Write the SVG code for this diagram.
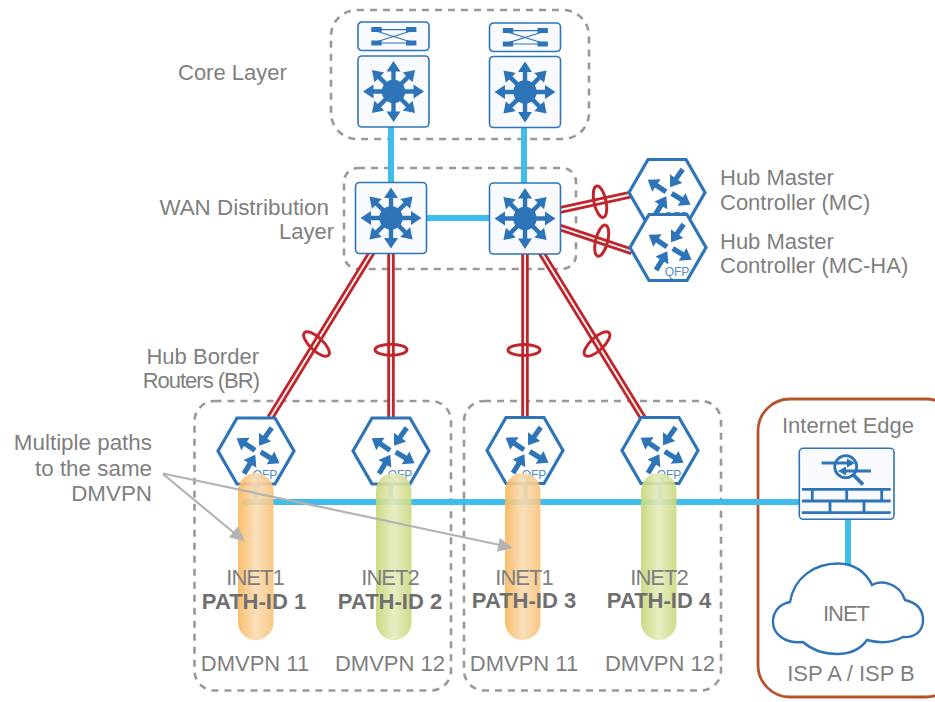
<svg xmlns="http://www.w3.org/2000/svg" width="935" height="702" viewBox="0 0 935 702">
<style>
text{font-family:"Liberation Sans",Arial,sans-serif;font-size:22px;fill:#7f7f7f}
.w{font-size:22.400px}
.n{letter-spacing:-1px}
.b{font-weight:700;fill:#6f6f6f}
.m{text-anchor:middle}
.e{text-anchor:end}
.q{font-size:12px;fill:#4f8ac6;text-anchor:middle}
.dash{fill:none;stroke:#999;stroke-width:2.600;stroke-dasharray:7 6}
.blue{stroke:#40bde8;stroke-width:6;fill:none}
.stub{stroke:#40bde8;stroke-width:5;fill:none}
.rout{stroke:#c0272d;stroke-width:7.500;fill:none}
.rin{stroke:#fff;stroke-width:1.800;fill:none}
.ring{fill:none;stroke:#c0272d;stroke-width:3}
.box{fill:#f8fafd;stroke:#2e74b8;stroke-width:1.600}
.hex{fill:#fff;stroke:#2e74b8;stroke-width:3.200;stroke-linejoin:miter}
.ic{fill:#2e74b8}
.thin{stroke:#2e74b8;stroke-width:1.100;fill:none}
.wall{stroke:#2e74b8;stroke-width:2.800;fill:none}
.note{stroke:#b3b3b3;stroke-width:2.200;fill:none}
</style>
<defs>
<linearGradient id="org" x1="0" x2="1" y1="0" y2="0"><stop offset="0" stop-color="#f9b75c"/><stop offset=".5" stop-color="#f8dcb4"/><stop offset="1" stop-color="#f9c177"/></linearGradient>
<linearGradient id="grn" x1="0" x2="1" y1="0" y2="0"><stop offset="0" stop-color="#c6d676"/><stop offset=".5" stop-color="#e6ebbd"/><stop offset="1" stop-color="#c9d87c"/></linearGradient>
<path id="sa" class="ic" d="M0-2.200H20V-7L30.500 0 20 7V2.200H0Z"/>
<g id="switch">
<rect class="box" x="-35.500" y="-35.500" width="71" height="71" rx="4"/>
<use href="#sa"/><use href="#sa" transform="rotate(45)"/><use href="#sa" transform="rotate(90)"/><use href="#sa" transform="rotate(135)"/><use href="#sa" transform="rotate(180)"/><use href="#sa" transform="rotate(225)"/><use href="#sa" transform="rotate(270)"/><use href="#sa" transform="rotate(315)"/>
<circle class="ic" r="11.700"/>
</g>
<g id="xbar">
<rect class="box" width="71" height="28.500" rx="4"/>
<path class="thin" d="M18 7.600H53M18 21H53M18 9L53 20M18 20L53 9"/>
<rect class="ic" x="13.300" y="5" width="10.400" height="5"/><rect class="ic" x="48" y="5" width="10.400" height="5"/><rect class="ic" x="13.300" y="18.500" width="10.400" height="5"/><rect class="ic" x="48" y="18.500" width="10.400" height="5"/>
</g>
<path id="ra" class="ic" d="M0-2.600H11.500V-7.500L22 0 11.500 7.500V2.600H0Z"/>
<g id="router">
<path class="hex" d="M-38 0L-19-33H19L38 0 19 33H-19Z"/>
<use href="#ra" transform="translate(15.700 -23.300) rotate(125)"/>
<use href="#ra" transform="translate(-1 -.7) rotate(213.600)"/>
<use href="#ra" transform="translate(-12 22.700) rotate(-59)"/>
<use href="#ra" transform="translate(4.700 1) rotate(31)"/>
<text class="q" x="9" y="28">QFP</text>
</g>
<path id="noteHead" fill="#b3b3b3" d="M0 0L-15-7V7Z"/>
</defs>

<g id="containers">
<rect id="core-box" class="dash" x="331" y="10" width="258" height="129" rx="26"/>
<rect id="dist-box" class="dash" x="344" y="168" width="232" height="101" rx="14"/>
<rect id="group-left" class="dash" x="194.500" y="401" width="256.500" height="289.500" rx="20"/>
<rect id="group-right" class="dash" x="464" y="401" width="257" height="289.500" rx="20"/>
<rect id="internet-edge-box" x="758" y="399" width="200" height="298" rx="32" fill="none" stroke="#b5532a" stroke-width="2.800"/>
</g>

<g id="connectors">
<path class="blue" d="M391 125V184M524 125V185M425 218H491M848 518V566M242 502H801"/>
<path class="stub" d="M256 483V502M391 483V502M525 483V502M660 483V502"/>
<path class="rout" d="M372 252L270 418M391 252V418M525 252V418M541 252L643 418M560 210L631 194.500M560 227.500L632 251.500"/>
<path class="rin" d="M372 252L270 418M391 252V418M525 252V418M541 252L643 418M560 210L631 194.500M560 227.500L632 251.500"/>
<ellipse class="ring" cx="316.500" cy="344" rx="16.500" ry="6.500" transform="rotate(43 316.500 344)"/>
<ellipse class="ring" cx="391" cy="349.700" rx="16" ry="5.500"/>
<ellipse class="ring" cx="524" cy="350" rx="16" ry="5.500"/>
<ellipse class="ring" cx="597" cy="344" rx="16.500" ry="6.500" transform="rotate(-43 597 344)"/>
<ellipse class="ring" cx="600" cy="201.700" rx="6" ry="16" transform="rotate(-12 600 201.700)"/>
<ellipse class="ring" cx="601.700" cy="240.700" rx="6" ry="16" transform="rotate(14 601.700 240.700)"/>
</g>

<g id="core-1"><use href="#xbar" x="358" y="22"/><use href="#switch" x="393.500" y="91.500"/></g>
<g id="core-2"><use href="#xbar" x="489.500" y="23"/><use href="#switch" x="525" y="92"/></g>
<g id="dist-1"><use href="#switch" x="391" y="218"/></g>
<g id="dist-2"><use href="#switch" x="525" y="218.500"/></g>
<g id="mc"><use href="#router" x="667" y="192.500"/></g>
<g id="mc-ha"><use href="#router" x="668" y="247.500"/></g>
<g id="br-1"><use href="#router" x="256" y="451"/></g>
<g id="br-2"><use href="#router" x="391" y="451"/></g>
<g id="br-3"><use href="#router" x="525" y="450.500"/></g>
<g id="br-4"><use href="#router" x="660" y="450.500"/></g>

<g id="path-1"><rect x="238" y="473" width="35.500" height="167" rx="17.700" fill="url(#org)" fill-opacity=".9"/></g>
<g id="path-2"><rect x="376" y="473" width="35.500" height="167" rx="17.700" fill="url(#grn)" fill-opacity=".9"/></g>
<g id="path-3"><rect x="505" y="473" width="35.500" height="167" rx="17.700" fill="url(#org)" fill-opacity=".9"/></g>
<g id="path-4"><rect x="641" y="473" width="35.500" height="167" rx="17.700" fill="url(#grn)" fill-opacity=".9"/></g>

<g id="firewall">
<rect class="box" x="799.300" y="448.300" width="94.700" height="71" rx="4"/>
<circle cx="845.700" cy="466.700" r="11" fill="none" stroke="#2e74b8" stroke-width="2.800"/>
<path d="M853.500 475L863 484.500" stroke="#2e74b8" stroke-width="3.800" fill="none"/>
<path class="wall" d="M821.700 463H849M844 471H871"/>
<path class="ic" d="M847 458.500L855 463 847 467.500ZM846 466.500L838 471 846 475.500Z"/>
<path class="wall" d="M802 489.300H890.700M802 501H890.700M802 512.700H890.700M812.300 489.300V501M846.700 489.300V501M881.700 489.300V501M830 501V512.700M864 501V512.700"/>
</g>
<g id="inet-cloud">
<path d="M790 602C794 577 815 563.500 838 563.500C854 563.500 866 572 872 585C880 580 899 582 905 600C918 603 923 611 923 620C923 632 914 638 903 637C892 643 878 643 867 640C860 650 849 654 837 654C824 654 812 650 803 642C785 644 773 634 773 622C773 612 779 604 790 602Z" fill="#fff" stroke="#2e74b8" stroke-width="2.400"/>
</g>

<g id="labels">
<text x="178" y="80">Core Layer</text>
<text class="e w" x="329" y="215">WAN Distribution</text>
<text class="e" x="334" y="239">Layer</text>
<text x="720" y="185">Hub Master</text>
<text x="720" y="210">Controller (MC)</text>
<text x="720" y="249">Hub Master</text>
<text x="720" y="273">Controller (MC-HA)</text>
<text class="e" x="259" y="364">Hub Border</text>
<text class="e n" x="259" y="388">Routers (BR)</text>
<text class="e w" x="152" y="450">Multiple paths</text>
<text class="e w" x="152" y="476">to the same</text>
<text class="e w" x="152" y="501">DMVPN</text>
<text class="m" x="848" y="433">Internet Edge</text>
<text class="m n" x="846" y="621">INET</text>
<text class="m" x="851" y="681">ISP A / ISP B</text>
<text class="m n" x="255" y="585">INET1</text>
<text class="m b" x="254" y="609">PATH-ID 1</text>
<text class="m" x="255" y="671">DMVPN 11</text>
<text class="m n" x="390" y="585">INET2</text>
<text class="m b" x="390" y="609">PATH-ID 2</text>
<text class="m" x="390" y="671">DMVPN 12</text>
<text class="m n" x="524" y="585">INET1</text>
<text class="m b" x="524" y="608">PATH-ID 3</text>
<text class="m" x="524" y="671">DMVPN 11</text>
<text class="m n" x="659" y="585">INET2</text>
<text class="m b" x="659" y="608">PATH-ID 4</text>
<text class="m" x="660" y="671">DMVPN 12</text>
</g>

<g id="note-arrows">
<path class="note" d="M163 474L236 534.500M163 473.500L500 545"/>
<use href="#noteHead" transform="translate(245 541.500) rotate(39.500)"/>
<use href="#noteHead" transform="translate(513 548) rotate(12)"/>
</g>
</svg>
